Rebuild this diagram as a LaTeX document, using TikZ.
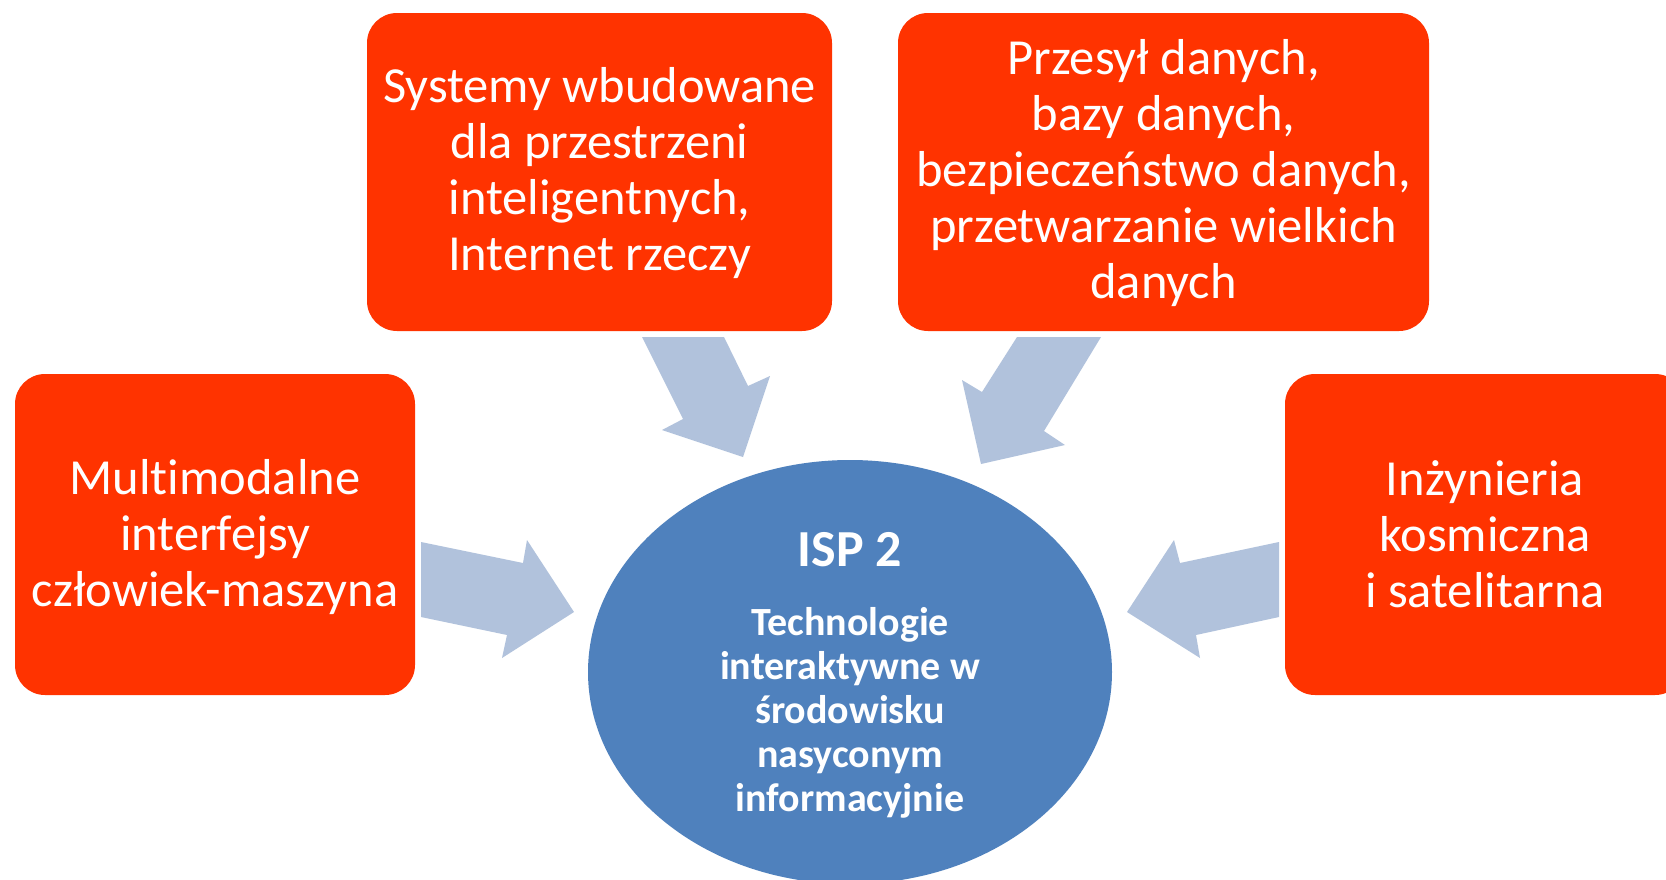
\documentclass[tikz,border=0pt]{standalone}
\usepackage{fontspec}
\setmainfont[Ligatures=NoCommon]{Carlito}
\usetikzlibrary{shapes.geometric}
\definecolor{boxred}{HTML}{FF3300}
\definecolor{ellblue}{HTML}{4F81BD}
\definecolor{arrblue}{HTML}{B1C2DC}
\tikzset{
  redbox/.style={fill=boxred, draw=none, rounded corners=30pt, inner sep=0pt},
  boxtext/.style={text=white, align=center, font=\fontsize{50.5}{56}\selectfont},
  blockarrow/.style={fill=arrblue, draw=none},
}
\begin{document}
\begin{tikzpicture}[x=1pt,y=-1pt]
\useasboundingbox (0,0) rectangle (1666,879);
\clip (0,0) rectangle (1666,879);
\fill[white] (0,0) rectangle (1666,879);
% boxes
\node[redbox, minimum width=465pt, minimum height=318pt] (b1) at (599.5,172) {};
\node[redbox, minimum width=531pt, minimum height=318pt] (b2) at (1163.5,172) {};
\node[redbox, minimum width=400pt, minimum height=321pt] (b3) at (215,534.5) {};
\node[redbox, minimum width=400pt, minimum height=321pt] (b4) at (1485,534.5) {};
% texts
\node[boxtext] (t1) at (599.5,173) {Systemy wbudowane\\dla przestrzeni\\inteligentnych,\\Internet rzeczy};
\node[boxtext] (t2) at (1163.5,173) {Przesył danych,\\bazy danych,\\bezpieczeństwo danych,\\przetwarzanie wielkich\\danych};
\node[boxtext] (t3) at (215,537) {Multimodalne\\interfejsy\\człowiek-maszyna};
\node[boxtext] (t4) at (1485,534) {Inżynieria\\kosmiczna\\i satelitarna};
% ellipse
\node[ellipse, fill=ellblue, draw=none, minimum width=524pt, minimum height=424pt, inner sep=0pt] (e) at (850,672) {};
\node[text=white, font=\fontsize{52}{56}\selectfont\bfseries] (isp) at (850,550) {ISP 2};
\node[text=white, align=center, font=\fontsize{40}{44}\selectfont\bfseries] (isptxt) at (850,713) {Technologie\\interaktywne w\\środowisku\\nasyconym\\informacyjnie};
% arrows
\fill[blockarrow] (421,542) -- (523,563) -- (527,540) -- (574,612) -- (502,658) -- (507,635) -- (421,617) -- cycle;
\fill[blockarrow] (1279,542) -- (1180,563) -- (1174,540) -- (1127,612) -- (1200,658) -- (1196,635) -- (1279,617) -- cycle;
\fill[blockarrow] (642,337) -- (724,337) -- (748,386) -- (770,376) -- (743,457) -- (662,430) -- (683,419) -- cycle;
\fill[blockarrow] (1017,337) -- (1101,337) -- (1044,431) -- (1065,445) -- (981,464) -- (962,380) -- (982,392) -- cycle;
\end{tikzpicture}
\end{document}
